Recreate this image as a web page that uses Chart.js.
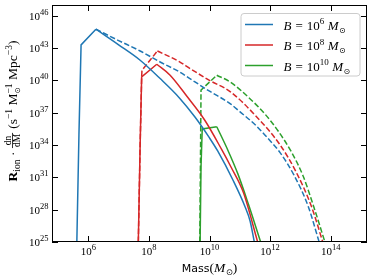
<!DOCTYPE html>
<html lang="en">
<head>
  <meta charset="UTF-8" />
  <title>Ionizing rate vs halo mass</title>
  <script src="https://cdn.jsdelivr.net/npm/chart.js"></script>
  <style>
    html, body { margin: 0; padding: 0; background: #fff; }
    canvas { display: block; }
  </style>
</head>
<body>
  <canvas id="chart" width="374" height="280"></canvas>

  <script>
    // everything below is log10 of the value
    const xTicks = [6, 8, 10, 12, 14];
    const yTicks = [25, 28, 31, 34, 37, 40, 43, 46];
    const legendExp = ['6', '8', '10'];

    const blueSolidM = [5.62, 5.69, 5.76, 6.25, 7.0, 7.71, 8.37, 9.0, 9.52, 10.0, 10.27, 10.79, 11.17, 11.34, 11.48];
    const blueSolidR = [25, 35, 43.3, 44.75, 43.3, 41.87, 40.17, 38.4, 36.6, 34.66, 33.45, 30.66, 28.3, 26.95, 25];
    const blueDashM = [6.25, 7.0, 7.71, 8.37, 9.0, 9.52, 10.0, 10.68, 11.0, 11.5, 12.0, 12.33, 12.79, 13.26, 13.62];
    const blueDashR = [44.75, 43.7, 42.73, 41.71, 40.8, 39.86, 39.0, 37.85, 37.1, 35.9, 34.4, 33.3, 31.2, 28.3, 25];

    const redSolidM = [7.65, 7.71, 7.76, 8.26, 8.7, 9.26, 9.85, 10.4, 10.71, 11.12, 11.59];
    const redSolidR = [25, 34, 40.32, 41.5, 40.48, 38.5, 36.28, 33.59, 31.96, 29.59, 25];
    const redDashM = [7.65, 7.71, 7.76, 7.77, 8.28, 9.0, 9.36, 10.0, 10.68, 11.5, 12.33, 12.86, 13.37, 13.74];
    const redDashR = [25, 34, 40.32, 40.94, 42.73, 41.75, 41.1, 40.0, 38.96, 36.79, 34.01, 31.5, 28.27, 25];

    const greenSolidM = [9.69, 9.72, 9.76, 10.24, 10.61, 10.94, 11.28, 11.69];
    const greenSolidR = [25, 32, 35.5, 35.7, 33.5, 31.3, 28.55, 25];
    const greenDashM = [9.68, 9.7, 9.72, 10.24, 10.68, 11.3, 11.83, 12.26, 12.71, 13.09, 13.45, 13.81];
    const greenDashR = [25, 32, 39.1, 40.48, 39.86, 38.4, 36.88, 35.33, 33.33, 31.13, 28.21, 25];

    // index where each curve turns over: sharp corners before, smooth fall after
    const turnIndex = { blueSolid: 3, blueDash: 0, redSolid: 3, redDash: 4, greenSolid: 3, greenDash: 3 };

    const BLUE = '#1f77b4', RED = '#d62728', GREEN = '#2ca02c';
    const SERIF = 'Liberation Serif';

    function pts(m, r) {
      return m.map((v, i) => ({ x: Math.pow(10, v), y: Math.pow(10, r[i]) }));
    }
    function curve(m, r, turn, color, dashed) {
      const base = {
        borderColor: color, borderWidth: 1.5,
        borderDash: dashed ? [5.5, 2.4] : [],
        pointRadius: 0, fill: false
      };
      const all = pts(m, r);
      const out = [Object.assign({}, base, { data: all.slice(turn), cubicInterpolationMode: 'monotone' })];
      if (turn > 0) out.push(Object.assign({}, base, { data: all.slice(0, turn + 1), tension: 0 }));
      return out;
    }

    // draws a run of text pieces (sub/superscripts, fractions); dry = measure only
    function parts(ctx, list, x, y, dry) {
      list.forEach(p => {
        ctx.font = p.f;
        if (p.frac) {
          const wn = ctx.measureText(p.frac[0]).width, wd = ctx.measureText(p.frac[1]).width;
          const w = Math.max(wn, wd) + 2, bar = y - 4.5;
          if (!dry) {
            ctx.fillText(p.frac[0], x + (w - wn) / 2, bar - 1.5);
            ctx.fillText(p.frac[1], x + (w - wd) / 2, bar + 7.5);
            ctx.fillRect(x, bar - 0.4, w, 0.8);
          }
          x += w + (p.gap || 0);
        } else {
          if (!dry) ctx.fillText(p.t, x, y + (p.dy || 0));
          if (!p.stay) x += ctx.measureText(p.t).width + (p.gap || 0);
        }
      });
      return x;
    }

    const decor = {
      id: 'decor',
      afterDatasetsDraw(chart) {
        const { ctx, chartArea: a, scales } = chart;
        ctx.save();
        ctx.strokeStyle = '#000';
        ctx.fillStyle = '#000';
        ctx.lineWidth = 1;
        ctx.strokeRect(a.left + 0.5, a.top + 0.5, a.width - 1, a.height - 1);

        // inward ticks on all four sides
        ctx.beginPath();
        xTicks.forEach(e => {
          const px = Math.round(scales.x.getPixelForValue(Math.pow(10, e))) + 0.5;
          ctx.moveTo(px, a.bottom); ctx.lineTo(px, a.bottom - 6);
          ctx.moveTo(px, a.top); ctx.lineTo(px, a.top + 6);
        });
        yTicks.forEach(e => {
          const py = Math.round(scales.y.getPixelForValue(Math.pow(10, e))) + 0.5;
          ctx.moveTo(a.left, py); ctx.lineTo(a.left + 6, py);
          ctx.moveTo(a.right, py); ctx.lineTo(a.right - 6, py);
        });
        ctx.stroke();

        // tick labels
        const base = '11px ' + SERIF, small = '8.5px ' + SERIF;
        xTicks.forEach(e => {
          const px = scales.x.getPixelForValue(Math.pow(10, e));
          const lab = [{ t: '10', f: base }, { t: String(e), f: small, dy: -5 }];
          const w = parts(ctx, lab, 0, 0, true);
          parts(ctx, lab, px - w / 2, 255);
        });
        yTicks.forEach(e => {
          const py = scales.y.getPixelForValue(Math.pow(10, e));
          const lab = [{ t: '10', f: base }, { t: String(e), f: small, dy: -5 }];
          const w = parts(ctx, lab, 0, 0, true);
          parts(ctx, lab, 48.5 - w, py + 4);
        });

        // x title
        const xt = [
          { t: 'Mass', f: '11px "DejaVu Sans"' },
          { t: '(', f: '13.5px ' + SERIF },
          { t: 'M', f: 'italic 13.5px ' + SERIF, gap: 0.5 },
          { t: '\u2299', f: '8.5px "DejaVu Sans"', dy: 3 },
          { t: ')', f: '13.5px ' + SERIF }
        ];
        const xw = parts(ctx, xt, 0, 0, true);
        parts(ctx, xt, (a.left + a.right) / 2 - xw / 2, 271.5);

        // y title, rotated
        const F = '13.5px ' + SERIF, S = '9.5px ' + SERIF;
        const yt = [
          { t: 'R', f: 'bold 13.5px ' + SERIF },
          { t: 'ion', f: S, dy: 3, gap: 3.5 },
          { t: '\u00b7', f: F, gap: 3.5 },
          { frac: ['dn', 'dM'], f: S, gap: 4 },
          { t: '(s', f: F },
          { t: '\u22121', f: S, dy: -5.5, gap: 3.5 },
          { t: 'M', f: F },
          { t: '\u2299', f: '7.5px "DejaVu Sans"', dy: 3, stay: true },
          { t: '\u22121', f: S, dy: -5.5, gap: 3.5 },
          { t: 'Mpc', f: F },
          { t: '\u22123', f: S, dy: -5.5 },
          { t: ')', f: F }
        ];
        const yw = parts(ctx, yt, 0, 0, true);
        ctx.translate(17, 111);
        ctx.rotate(-Math.PI / 2);
        parts(ctx, yt, -yw / 2, 0);
        ctx.setTransform(1, 0, 0, 1, 0, 0);

        // legend
        const bx = 241, by = 13.5, bw = 119, bh = 62.5, r = 3;
        ctx.beginPath();
        ctx.roundRect(bx, by, bw, bh, r);
        ctx.fillStyle = 'rgba(255,255,255,0.8)';
        ctx.fill();
        ctx.strokeStyle = '#cccccc';
        ctx.stroke();
        [BLUE, RED, GREEN].forEach((c, i) => {
          const y = [24.5, 45, 65.5][i];
          ctx.strokeStyle = c;
          ctx.lineWidth = 1.5;
          ctx.beginPath();
          ctx.moveTo(245, y); ctx.lineTo(273, y);
          ctx.stroke();
          ctx.fillStyle = '#000';
          parts(ctx, [
            { t: 'B', f: 'italic 13px ' + SERIF, gap: 4 },
            { t: '=', f: '13px ' + SERIF, gap: 4 },
            { t: '10', f: '13px ' + SERIF },
            { t: legendExp[i], f: '9px ' + SERIF, dy: -5.5, gap: 3.5 },
            { t: 'M', f: 'italic 13px ' + SERIF, gap: 0.5 },
            { t: '\u2299', f: '8px "DejaVu Sans"', dy: 3 }
          ], 283.5, y + 5);
        });
        ctx.restore();
      }
    };

    new Chart(document.getElementById('chart'), {
      type: 'line',
      data: {
        datasets: [
          ...curve(blueSolidM, blueSolidR, turnIndex.blueSolid, BLUE, false),
          ...curve(redSolidM, redSolidR, turnIndex.redSolid, RED, false),
          ...curve(greenSolidM, greenSolidR, turnIndex.greenSolid, GREEN, false),
          ...curve(blueDashM, blueDashR, turnIndex.blueDash, BLUE, true),
          ...curve(redDashM, redDashR, turnIndex.redDash, RED, true),
          ...curve(greenDashM, greenDashR, turnIndex.greenDash, GREEN, true)
        ]
      },
      options: {
        responsive: false,
        animation: false,
        devicePixelRatio: 1,
        layout: { padding: { left: 52, top: 5, right: 7, bottom: 38 } },
        plugins: { legend: { display: false }, tooltip: { enabled: false } },
        scales: {
          x: { type: 'logarithmic', display: false, min: Math.pow(10, 4.8), max: Math.pow(10, 15.2) },
          y: { type: 'logarithmic', display: false, min: 1e25, max: 1e47 }
        }
      },
      plugins: [decor]
    });
  </script>
</body>
</html>
